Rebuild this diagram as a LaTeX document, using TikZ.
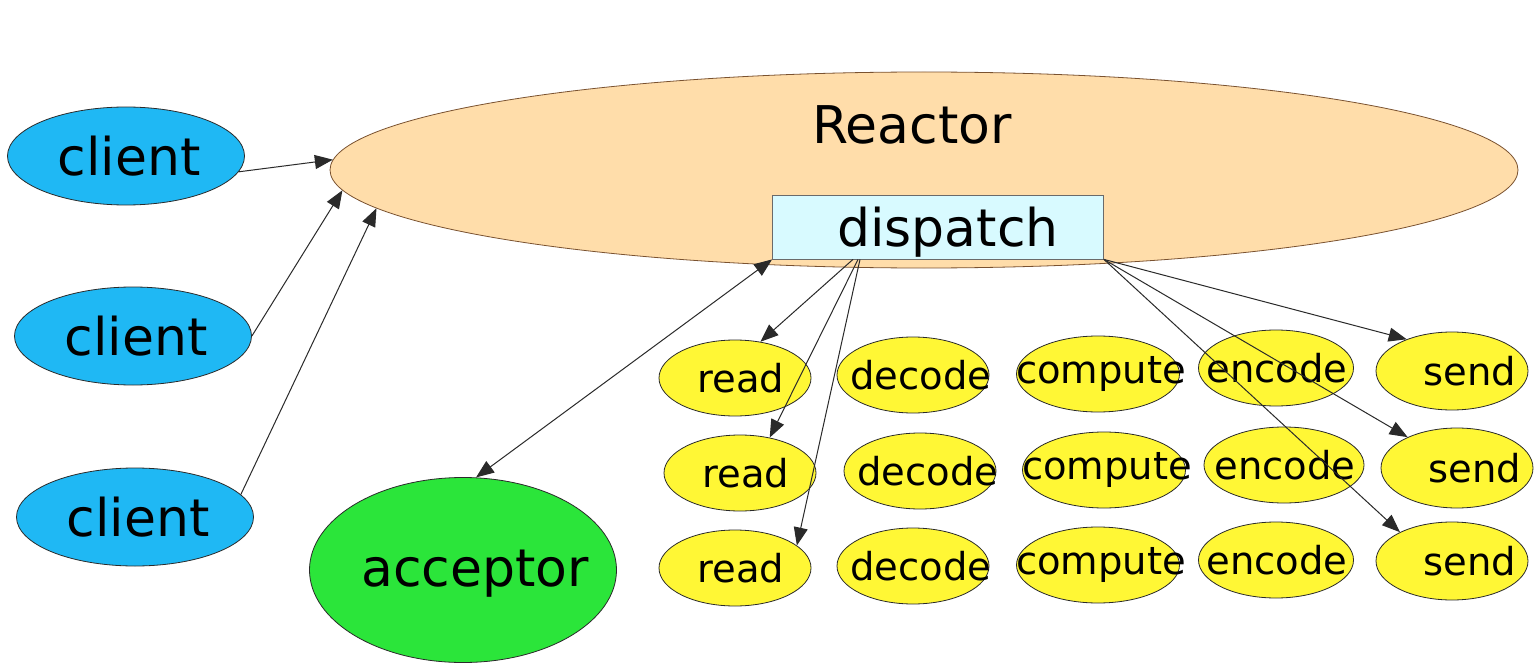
\documentclass[tikz,border=0pt]{standalone}
\usepackage{fontspec}
\setmainfont{DejaVu Sans}
\usetikzlibrary{arrows.meta,shapes.geometric}
\definecolor{clientblue}{HTML}{1FB8F4}
\definecolor{reactorpeach}{HTML}{FFDDAA}
\definecolor{reactoredge}{HTML}{7A5230}
\definecolor{dispatchcyan}{HTML}{D8FAFF}
\definecolor{acceptgreen}{HTML}{2BE53A}
\definecolor{taskyellow}{HTML}{FFF735}
\definecolor{inkgray}{HTML}{2A2A2A}
% zero-width label, optionally nudged to the right
\newcommand{\tasklbl}[2][0pt]{\makebox[0pt]{\hspace*{#1}#2\hspace*{-#1}}}
\tikzset{
  ovalnode/.style={ellipse,draw=inkgray,line width=0.8pt,inner sep=0pt,text=black},
  clientnode/.style={ovalnode,fill=clientblue,minimum width=237pt,minimum height=98pt,font=\fontsize{52}{60}\selectfont},
  tasknode/.style={ovalnode,fill=taskyellow,minimum width=152pt,minimum height=76pt,font=\fontsize{38.5}{46}\selectfont},
  bigfont/.style={font=\fontsize{52}{60}\selectfont},
  flowarrow/.style={-{Triangle[length=18pt,width=14pt]},draw=inkgray,line width=1pt},
  duplexarrow/.style={flowarrow,{Triangle[length=18pt,width=14pt]}-{Triangle[length=18pt,width=14pt]}},
}

\begin{document}
\begin{tikzpicture}[x=1pt,y=-1pt]
    \fill[white] (0,0) rectangle (1540,666);
    \useasboundingbox (0,0) rectangle (1540,666);
    % reactor with its dispatch box
    \node[ovalnode,draw=reactoredge,fill=reactorpeach,minimum width=1188pt,minimum height=196pt] (reactor) at (924,170) {};
    \node[bigfont] (reactorlbl) at (912,125) {Reactor};
    \node[draw=inkgray!70,fill=dispatchcyan,line width=0.8pt,inner sep=0pt,minimum width=331pt,minimum height=64pt,bigfont] (dispatch) at (938,227) {\raisebox{-5pt}[\height][\depth]{\tasklbl[10pt]{dispatch}}};
    % clients and acceptor
    \node[clientnode] (c1) at (126,156) {\tasklbl[3pt]{client}};
    \node[clientnode] (c2) at (133,336) {\tasklbl[3pt]{client}};
    \node[clientnode] (c3) at (135,517) {\tasklbl[3pt]{client}};
    \node[ovalnode,fill=acceptgreen,minimum width=307pt,minimum height=185pt,bigfont] (acc) at (463,570) {\raisebox{-4pt}[\height][\depth]{\tasklbl[12pt]{acceptor}}};
    % handler rows
    \node[tasknode] (r1) at (735,378) {\tasklbl[6pt]{read}};
    \node[tasknode] (d1) at (913,375) {\tasklbl[8pt]{decode}};
    \node[tasknode,minimum width=163pt] (p1) at (1098,374) {\tasklbl[3pt]{compute}};
    \node[tasknode,minimum width=155pt] (e1) at (1276,368) {\tasklbl[1pt]{encode}};
    \node[tasknode,minimum height=78pt] (s1) at (1452,371) {\tasklbl[18pt]{send}};
    \node[tasknode] (r2) at (740,473) {\tasklbl[6pt]{read}};
    \node[tasknode] (d2) at (920,471) {\tasklbl[8pt]{decode}};
    \node[tasknode,minimum width=163pt] (p2) at (1104,470) {\tasklbl[3pt]{compute}};
    \node[tasknode,minimum width=160pt] (e2) at (1284,465) {\tasklbl[1pt]{encode}};
    \node[tasknode,minimum height=80pt] (s2) at (1457,468) {\tasklbl[18pt]{send}};
    \node[tasknode] (r3) at (735,568) {\tasklbl[6pt]{read}};
    \node[tasknode] (d3) at (913,566) {\tasklbl[8pt]{decode}};
    \node[tasknode,minimum width=163pt] (p3) at (1098,565) {\tasklbl[3pt]{compute}};
    \node[tasknode,minimum width=155pt] (e3) at (1276,560) {\tasklbl[1pt]{encode}};
    \node[tasknode,minimum height=78pt] (s3) at (1452,561) {\tasklbl[18pt]{send}};
    % connectors
    \draw[flowarrow] (c1.-8) -- (reactor.179);
    \draw[flowarrow] (c2.east) -- (reactor.182.7);
    \draw[flowarrow] (c3.12) -- (reactor.184.4);
    \draw[duplexarrow] (dispatch.south west) -- (acc.82);
    \draw[flowarrow] ([xshift=-85pt]dispatch.south) -- (r1.55);
    \draw[flowarrow] ([xshift=-80pt]dispatch.south) -- (r2.50);
    \draw[flowarrow] ([xshift=-78pt]dispatch.south) -- (r3.20);
    \draw[flowarrow] (dispatch.south east) -- (s1.145);
    \draw[flowarrow] (dispatch.south east) -- (s2.148);
    \draw[flowarrow] (dispatch.south east) -- (s3.151);
\end{tikzpicture}
\end{document}
